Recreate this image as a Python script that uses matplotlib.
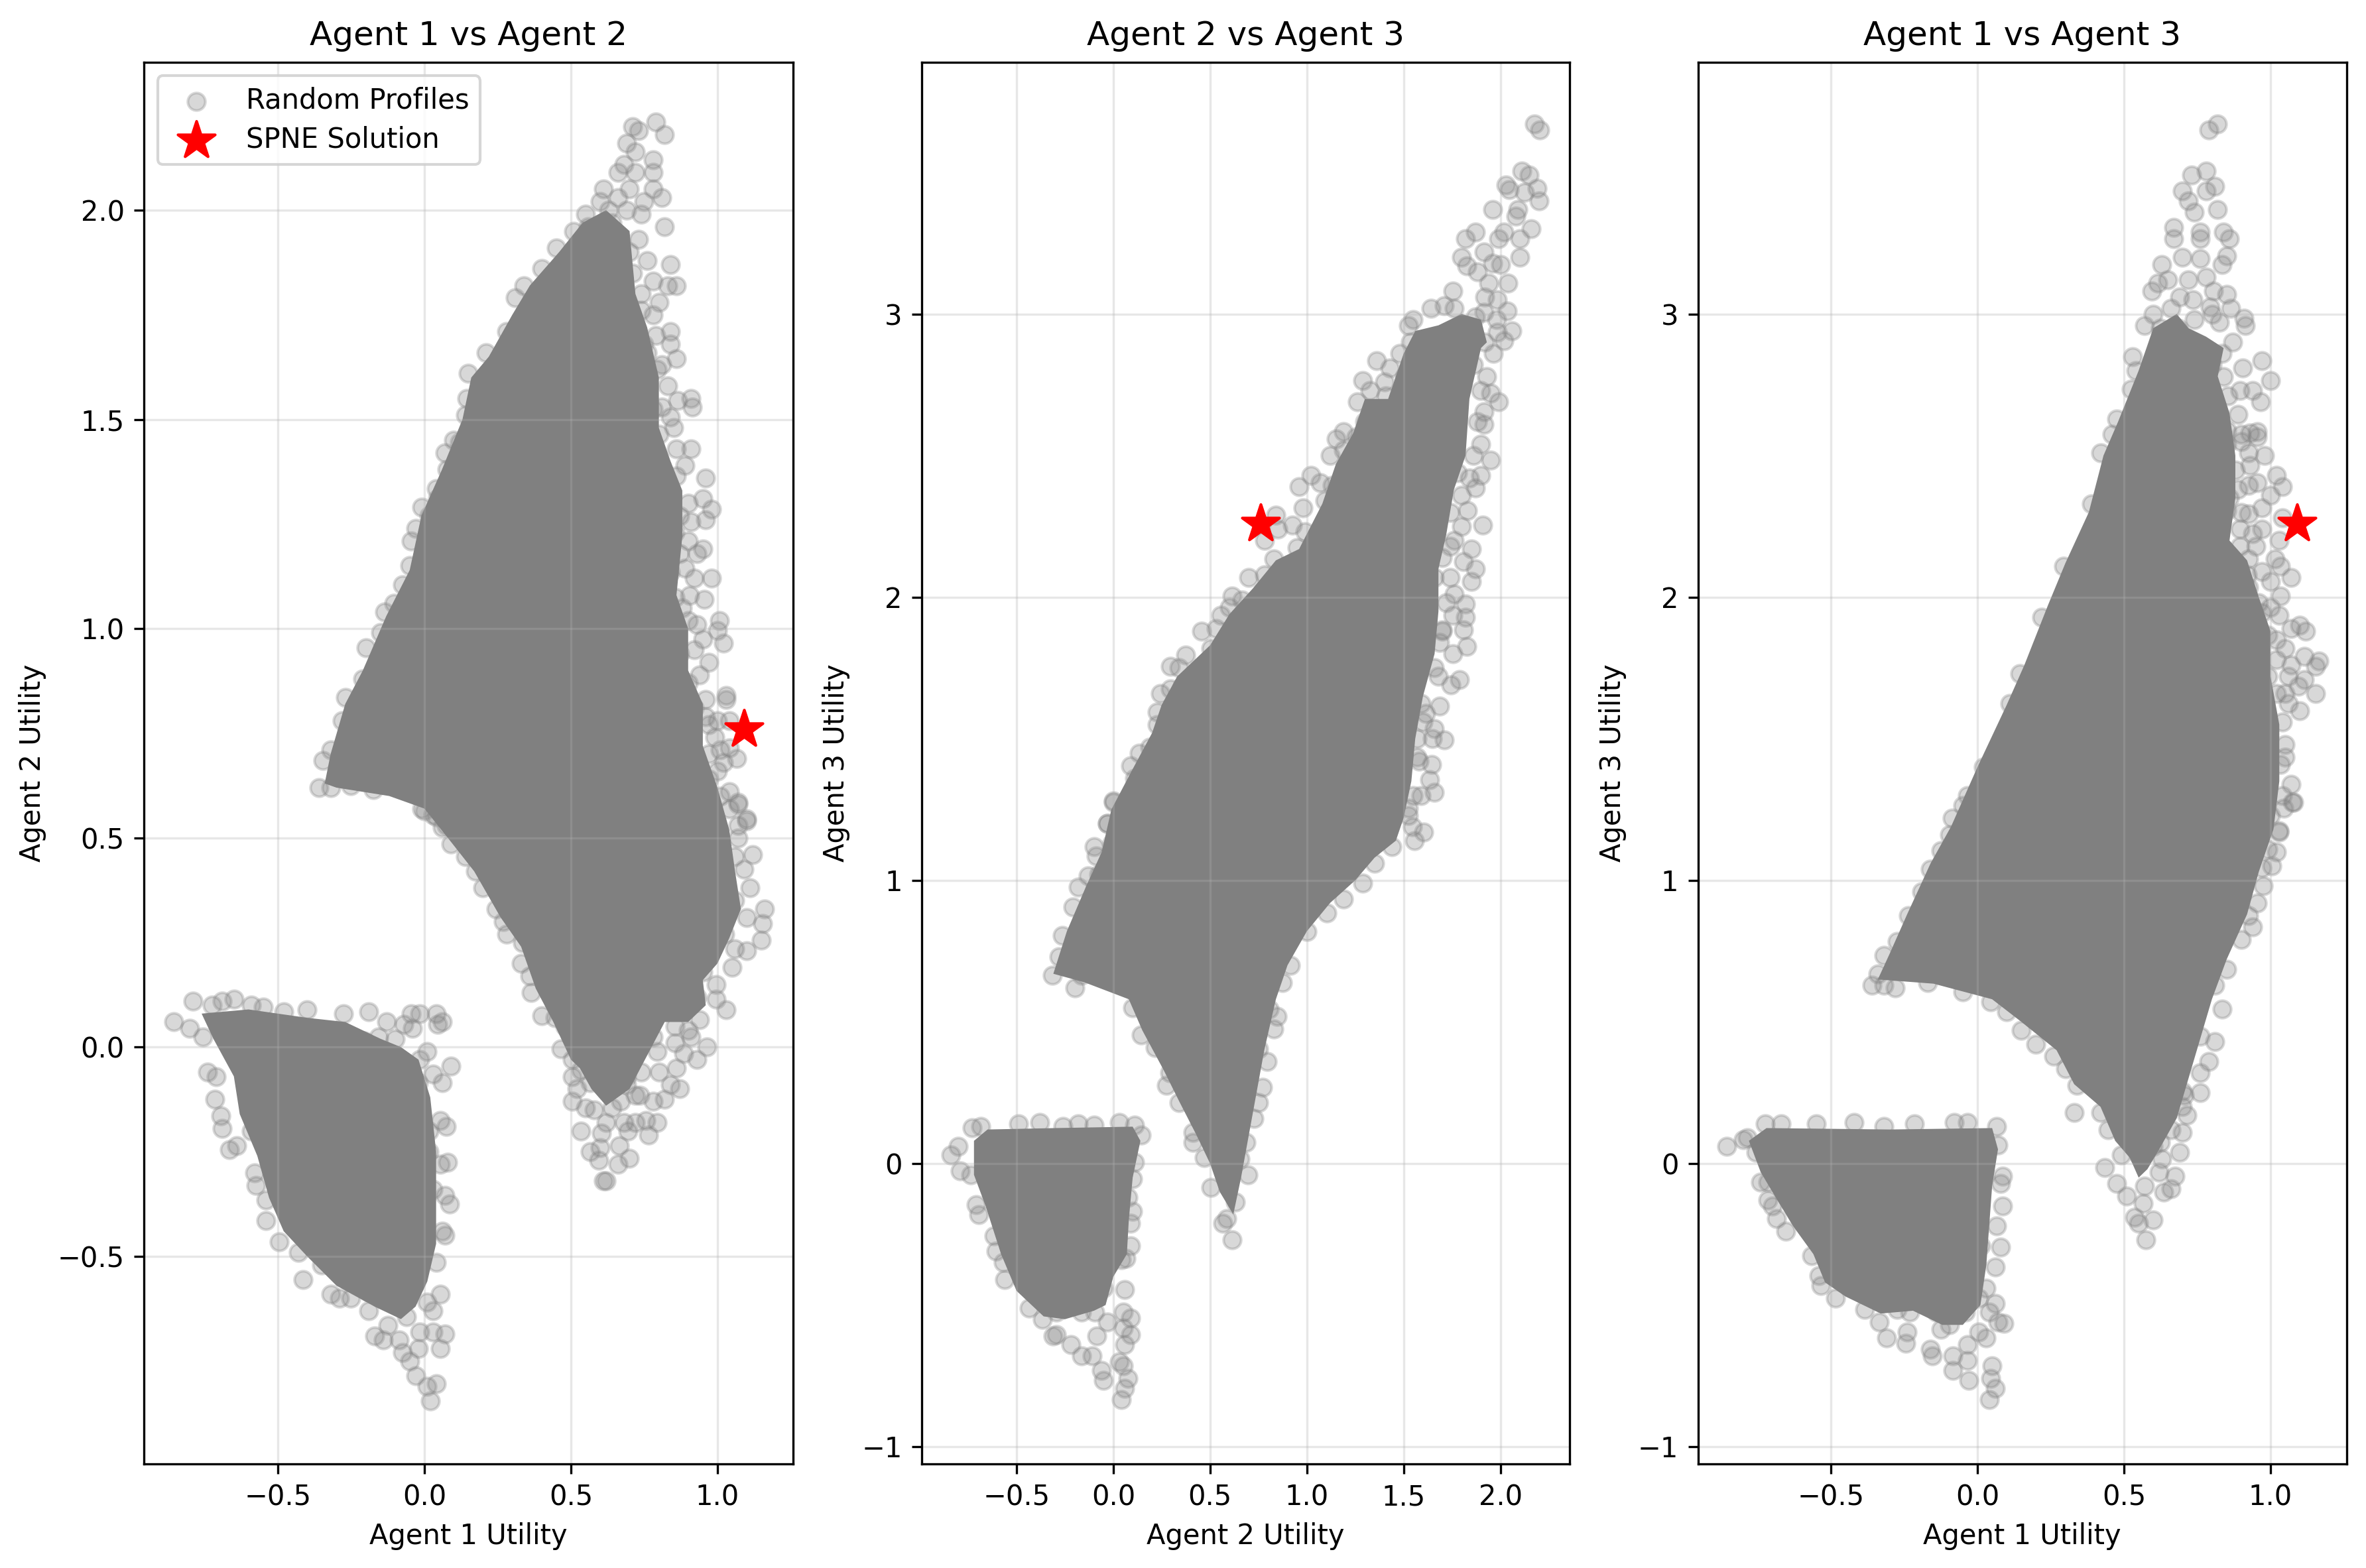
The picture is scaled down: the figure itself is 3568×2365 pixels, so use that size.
import numpy as np
import matplotlib
matplotlib.use('Agg')
import matplotlib.pyplot as plt

W, H = 3568, 2365

# SPNE utilities (agent 1, 2, 3)
spne = (1.09, 0.76, 2.26)

#==============================================================================
# agent 1 vs agent 2
#==============================================================================
# saturated part of the cloud, outline
solid_12_upper = [(-.34,.63),(-.32,.70),(-.27,.82),(-.21,.90),(-.13,1.03),(-.05,1.14),(-.01,1.27),(.06,1.38),(.13,1.50),(.16,1.60),(.22,1.65),
    (.30,1.75),(.36,1.82),(.46,1.90),(.54,1.97),(.62,2.00),(.70,1.95),(.72,1.80),(.76,1.72),(.80,1.60),(.80,1.48),(.84,1.40),(.88,1.33),(.88,1.22),
    (.86,1.08),(.90,1.0),(.90,.90),(.95,.82),(.95,.72),(1.00,.62),(1.04,.52),(1.06,.42),(1.08,.33),(1.04,.26),(1.00,.20),(.95,.16),(.96,.10),
    (.90,.06),(.82,.06),(.76,-.02),(.70,-.10),(.62,-.14),(.57,-.10),(.53,-.05),(.50,-.03),(.44,.06),(.38,.14),(.33,.24),(.26,.31),(.17,.42),
    (.08,.50),(.0,.57),(-.12,.60),(-.30,.62)]
solid_12_lower = [(-.76,.08),(-.60,.09),(-.40,.07),(-.27,.06),(-.15,.02),(-.08,0),(-.02,-.03),(.02,-.12),(.04,-.25),(.04,-.36),(.04,-.47),(.01,-.56),
    (-.03,-.62),(-.08,-.65),(-.17,-.62),(-.30,-.57),(-.40,-.50),(-.48,-.44),(-.53,-.36),(-.57,-.26),(-.63,-.16),(-.65,-.07),(-.72,.02)]
# scattered profiles around it
points_12 = [(.71,2.20),(.79,2.21),(.82,2.18),(.73,2.19),(.69,2.16),(.72,2.14),(.78,2.12),(.78,2.09),(.66,2.09),(.68,2.11),(.72,2.09),
    (.70,2.05),(.78,2.05),(.81,2.03),(.75,2.02),(.74,1.99),(.69,2.0),(.61,2.05),(.60,2.02),(.63,2.0),(.55,1.99),(.82,1.96),(.51,1.95),
    (.56,1.96),(.65,1.94),(.73,1.93),(.45,1.91),(.84,1.87),(.40,1.86),(.76,1.88),(.71,1.85),(.34,1.82),(.31,1.79),(.86,1.82),(.83,1.82),
    (.80,1.78),(.78,1.75),(.74,1.76),(.84,1.71),(.84,1.68),(.86,1.645),(.28,1.71),(.35,1.75),(.275,1.66),(.21,1.66),(.15,1.61),(.145,1.55),
    (.14,1.51),(.91,1.55),(.915,1.53),(.865,1.545),(.84,1.505),(.80,1.465),(.86,1.43),(.91,1.43),(.89,1.39),(.96,1.36),(.95,1.31),
    (.98,1.285),(.96,1.26),(.91,1.255),(.95,1.19),(.98,1.12),(.955,1.07),(.905,1.08),(1.006,1.02),(1.0,.995),(1.02,.965),(.95,.975),
    (.90,1.02),(.93,1.01),(.97,.92),(1.03,.84),(1.03,.83),(.96,.83),(.96,.79),(1.04,.78),(.99,.74),(1.01,.71),(1.04,.715),(1.065,.69),
    (1.0,.66),(1.04,.61),(1.07,.58),(1.01,.60),(1.10,.54),(1.07,.53),(.076,1.38),(.07,1.42),(.10,1.45),(.12,1.445),(.04,1.335),(.045,1.31),
    (-.01,1.29),(-.03,1.24),(-.045,1.21),(.015,1.27),(-.05,1.15),(-.075,1.105),(-.135,1.04),(-.105,1.06),(-.2,.955),(-.15,.99),(-.21,.88),
    (-.27,.835),(-.28,.78),(-.32,.71),(-.345,.685),(-.36,.62),(-.32,.62),(-.29,.66),(-.25,.625),(-.175,.615),(-.245,.67),(0,.565),(.04,.55),
    (.075,.53),(.72,1.63),(.76,1.585),(.70,1.585),(.795,1.62),(.75,1.68),(.70,1.67),(.64,1.645),(.81,1.63),(.67,1.80),(.69,1.78),(.63,1.85),
    (.72,1.535),(.78,1.525),(.69,1.44),(.78,1.415),(.86,1.365),(.81,1.365),(.72,1.34),(.84,1.33),(.80,1.285),(.76,1.28),(.855,1.23),
    (.81,1.21),(.93,1.18),(.89,1.145),(.84,1.135),(.75,1.17),(.795,1.075),(.855,1.075),(.795,1.03),(.87,.94),(.90,.87),(.84,.845),(.92,.81),
    (1.07,.585),(1.10,.545),(1.07,.50),(1.06,.455),(1.12,.46),(1.09,.425),(1.11,.38),(1.06,.35),(1.16,.33),(1.155,.295),(1.10,.31),
    (1.15,.255),(1.10,.23),(1.06,.235),(1.05,.19),(.95,.29),(1.025,.27),(.95,.225),(.995,.15),(1.03,.09),(.995,.115),(.93,.12),(.94,.065),
    (.965,0),(.93,-.03),(.885,-.015),(.91,.025),(.855,.01),(.795,-.01),(.87,-.10),(.84,-.09),(.82,-.125),(.795,-.18),(.755,-.175),
    (.765,-.21),(.70,-.265),(.66,-.28),(.665,-.235),(.695,-.2),(.62,-.32),(.61,-.32),(.595,-.27),(.565,-.25),(.535,-.20),(.605,-.205),
    (.505,-.13),(.55,-.145),(.64,-.145),(.735,-.115),(.69,-.09),(.505,-.07),(.52,-.10),(.465,-.005),(.505,-.03),(.565,-.085),(.40,.075),
    (.445,.07),(.48,.05),(.365,.13),(.36,.17),(.33,.20),(.335,.25),(.28,.27),(.27,.30),(.245,.33),(.20,.38),(.175,.42),(.14,.455),(.09,.485),
    (.06,.525),(-.01,.57),(.03,.555),(.765,.13),(.84,.095),(.765,.19),(.90,.155),(.64,.095),(.78,.025),(.64,-.01),(.69,-.07),(.72,-.115),
    (.58,-.03),(.535,-.055),(.69,.025),(.95,.18),(.855,.05),(.58,.085),
    (.66,2.03),(.64,1.97),(.60,1.93),(.70,1.90),(.66,1.88),(.78,1.83),(.74,1.80),(.79,1.70),(.76,1.66),(.83,1.58),(.85,1.48),(.81,1.53),(.90,1.30),
    (.87,1.27),(.90,1.21),(.87,1.18),(.92,1.12),(.88,1.05),(.92,.95),(.94,.89),(.97,.77),(1.0,.78),(.97,.70),(1.02,.68),(.97,.64),(1.04,.57),
    (.62,-.18),(.60,-.24),(.68,-.18),(.74,-.06),(.80,-.06),(.86,-.05),(.78,-.13),(.72,-.18),(.67,-.13),(.58,-.15),(.90,.04),(.86,.10),
    (-.855,.06),(-.79,.11),(-.80,.045),(-.755,.025),(-.74,-.06),(-.71,-.07),(-.715,-.125),(-.695,-.165),(-.69,-.195),(-.665,-.245),
    (-.64,-.235),(-.59,-.2),(-.58,-.30),(-.575,-.33),(-.54,-.365),(-.54,-.415),(-.495,-.465),(-.43,-.49),(-.415,-.555),(-.35,-.52),
    (-.32,-.59),(-.25,-.60),(-.29,-.60),(-.19,-.63),(-.19,-.585),(-.17,-.69),(-.14,-.70),(-.125,-.665),(-.085,-.70),(-.075,-.73),(-.05,-.75),
    (-.03,-.785),(.01,-.81),(.04,-.805),(.02,-.845),(-.02,-.72),(.055,-.72),(.07,-.685),(.03,-.68),(-.015,-.68),(.055,-.59),(.03,-.63),
    (.01,-.61),(-.075,-.575),(-.06,-.645),(.04,-.515),(.07,-.45),(.06,-.44),(0,-.44),(.085,-.375),(.07,-.355),(.03,-.34),(.08,-.275),
    (.055,-.28),(.015,-.25),(.075,-.19),(.055,-.175),(.015,-.2),(.06,-.085),(.09,-.045),(.03,-.065),(-.015,-.03),(.01,-.01),(-.02,-.085),
    (.045,.055),(.06,.06),(.04,.08),(-.045,.08),(-.015,.08),(-.04,.045),(-.07,.055),(-.19,.085),(-.13,.06),(-.10,.02),(-.275,.08),(-.40,.09),
    (-.48,.085),(-.55,.095),(-.65,.115),(-.725,.10),(-.69,.11),(-.59,.10),(-.205,.015),(-.155,.025),(-.12,-.02)]

#==============================================================================
# agent 2 vs agent 3
#==============================================================================
solid_23_upper = [(-.31,.67),(-.24,.82),(-.14,.98),(-.06,1.10),(-.01,1.25),(.09,1.38),(.20,1.52),(.25,1.62),(.33,1.72),(.50,1.83),(.60,1.94),(.72,2.03),
    (.84,2.13),(.96,2.17),(1.08,2.33),(1.15,2.47),(1.24,2.58),(1.30,2.70),(1.42,2.70),(1.50,2.86),(1.56,2.94),(1.68,2.96),(1.80,3.0),(1.90,2.98),
    (1.93,2.9),(1.90,2.88),(1.84,2.70),(1.82,2.50),(1.76,2.38),(1.72,2.22),(1.68,2.10),(1.68,1.95),(1.66,1.80),(1.60,1.65),(1.56,1.50),(1.54,1.35),
    (1.50,1.22),(1.46,1.14),(1.35,1.08),(1.25,1.0),(1.12,.92),(1.0,.82),(.90,.70),(.84,.58),(.78,.40),(.74,.25),(.70,.10),(.66,-.05),(.62,-.18),
    (.55,-.10),(.50,0),(.43,.10),(.34,.22),(.26,.33),(.15,.47),(.08,.58),(-.15,.64)]
solid_23_lower = [(-.72,.08),(-.65,.12),(-.3,.125),(.10,.13),(.14,.08),(.10,-.05),(.08,-.20),(.07,-.32),(0,-.40),(-.04,-.50),(-.10,-.52),(-.25,-.55),
    (-.36,-.54),(-.50,-.45),(-.58,-.32),(-.66,-.15),(-.72,-.04)]
points_23 = [(2.175,3.67),(2.205,3.65),(2.11,3.505),(2.15,3.49),(2.03,3.455),(2.045,3.44),(2.19,3.445),(2.20,3.40),(2.125,3.43),(1.96,3.37),
    (2.09,3.37),(2.08,3.345),(2.16,3.30),(2.02,3.29),(2.10,3.265),(1.99,3.265),(1.87,3.29),(1.82,3.265),(1.80,3.20),(1.915,3.22),(2.10,3.20),
    (2.0,3.175),(1.825,3.17),(2.04,3.11),(1.94,3.11),(1.755,3.08),(1.985,3.05),(1.71,3.03),(1.64,3.02),(2.035,3.01),(1.55,2.98),(1.525,2.96),
    (1.915,3.005),(2.06,2.94),(1.985,2.935),(1.535,2.90),(2.02,2.905),(1.965,2.86),(1.87,2.99),(1.80,2.95),(1.64,2.915),(1.36,2.835),
    (1.43,2.81),(1.505,2.78),(1.29,2.765),(1.325,2.73),(1.93,2.78),(1.90,2.73),(1.99,2.69),(1.915,2.655),(1.26,2.69),(1.41,2.71),(1.34,2.645),
    (1.915,2.61),(1.19,2.585),(1.255,2.565),(1.90,2.54),(1.95,2.485),(1.12,2.50),(1.19,2.52),(1.34,2.52),(1.90,2.43),(1.87,2.385),(1.78,2.44),
    (1.22,2.45),(1.02,2.43),(1.07,2.405),(.96,2.39),(.98,2.315),(1.13,2.395),(1.91,2.255),(1.83,2.305),(.84,2.29),(.925,2.255),(.78,2.20),
    (.85,2.24),(.99,2.23),(1.095,2.34),(1.08,2.25),(1.80,2.25),(1.76,2.20),(.95,2.175),(1.85,2.17),(.83,2.135),(.945,2.125),(1.095,2.15),
    (1.81,2.125),(1.87,2.10),(1.85,2.055),(1.66,2.07),(.70,2.07),(.78,2.08),(1.74,2.07),(1.76,2.01),(.615,2.005),(.665,1.99),(.60,1.965),
    (.555,1.935),(1.82,1.975),(1.82,1.93),(1.755,1.935),(.455,1.88),(.53,1.89),(1.81,1.885),(1.70,1.885),(1.825,1.825),(1.685,1.84),(.505,1.82),
    (.375,1.795),(.295,1.755),(.34,1.75),(.665,1.80),(1.755,1.80),(1.66,1.75),(1.79,1.71),(1.745,1.69),(.42,1.73),(.295,1.675),(.245,1.66),
    (.355,1.685),(.225,1.595),(.295,1.58),(.225,1.55),(1.59,1.625),(1.685,1.615),(1.615,1.59),(1.66,1.535),(1.71,1.495),(1.65,1.50),(1.57,1.50),
    (.19,1.47),(.135,1.45),(.09,1.405),(.11,1.36),(1.57,1.435),(1.645,1.41),(1.635,1.355),(1.66,1.31),(1.59,1.30),(0,1.28),(-.03,1.20),
    (1.525,1.255),(1.475,1.32),(1.545,1.19),(1.455,1.39),(1.44,1.265),(1.605,1.17),(1.555,1.14),(1.525,1.23),(1.44,1.12),(1.35,1.06),
    (1.29,.99),(1.19,.935),(1.105,.885),(1.0,.82),(.915,.70),(.875,.64),(.805,.545),(.845,.52),(.83,.475),(.795,.36),(.75,.405),(.77,.27),
    (.75,.215),(.725,.16),(.685,.075),(.695,-.04),(.655,.015),(.63,-.135),(.615,-.27),(.585,-.195),(.565,-.21),(.505,-.085),(.47,.02),(.41,.075),
    (.41,.11),(.445,.155),(.34,.215),(.275,.275),(.29,.32),(.215,.41),(.145,.455),(.10,.55),(-.165,.665),(-.20,.62),(-.315,.665),(-.28,.73),
    (-.265,.805),(-.21,.905),(-.18,.975),(-.13,1.015),(-.075,1.02),(-.10,1.12),(-.09,1.085),(-.005,1.13),(-.03,1.20),(0,1.275),
    (1.88,3.15),(1.96,3.18),(1.92,3.06),(1.98,2.98),(1.92,2.90),(1.76,3.02),(1.72,2.85),(1.86,2.82),(1.95,2.72),(1.88,2.62),(1.86,2.50),(1.84,2.42),
    (1.80,2.36),(1.74,2.30),(1.74,2.18),(1.70,2.14),(1.72,1.98),(1.70,1.88),(1.68,1.72),(1.60,1.56),(1.58,1.42),(1.55,1.30),(1.15,2.56),(1.30,2.62),
    (1.40,2.76),(1.48,2.86),(1.58,2.88),
    (-.84,.03),(-.80,.06),(-.79,-.025),(-.735,-.04),(-.73,.125),(-.685,.13),(-.71,-.145),(-.695,-.18),(-.49,.14),(-.38,.145),(-.26,.13),
    (-.18,.14),(-.10,.135),(.03,.145),(.11,.135),(.145,.10),(.11,.005),(.10,-.055),(.075,-.12),(.10,-.17),(.09,-.21),(.09,-.29),(.065,-.335),
    (.04,-.34),(.06,-.445),(-.05,-.44),(.05,-.525),(.09,-.545),(.09,-.605),(.05,-.58),(-.03,-.56),(-.085,-.61),(.06,-.64),(.03,-.70),(.05,-.715),
    (-.06,-.73),(-.05,-.765),(.075,-.76),(.06,-.795),(.04,-.835),(-.11,-.68),(-.165,-.68),(-.22,-.64),(-.295,-.605),(-.31,-.61),(-.365,-.55),
    (-.435,-.51),(-.56,-.41),(-.57,-.35),(-.605,-.31),(-.615,-.255),(-.165,-.525),(-.095,-.525),(-.295,-.525)]

#==============================================================================
# agent 1 vs agent 3
#==============================================================================
solid_13_upper = [(-.34,.65),(-.30,.74),(-.24,.88),(-.16,1.06),(-.09,1.19),(.0,1.40),(.10,1.62),(.16,1.76),(.24,1.97),(.30,2.12),(.38,2.30),(.43,2.50),
    (.48,2.62),(.55,2.80),(.60,2.95),(.68,3.0),(.72,2.95),(.78,2.92),(.84,2.88),(.82,2.78),(.86,2.65),(.88,2.50),(.88,2.35),(.86,2.20),(.92,2.13),
    (.96,2.0),(1.0,1.88),(1.0,1.72),(1.03,1.55),(1.03,1.35),(1.01,1.18),(.96,1.03),(.92,.88),(.85,.72),(.80,.58),(.76,.44),(.72,.30),(.68,.16),
    (.62,.05),(.58,-.02),(.55,-.05),(.52,.02),(.47,.08),(.42,.20),(.33,.28),(.27,.40),(.15,.50),(.05,.58),(-.15,.635)]
solid_13_lower = [(-.78,.08),(-.72,.125),(-.3,.12),(.05,.125),(.07,.05),(.05,-.08),(.04,-.22),(.03,-.36),(.01,-.50),(-.05,-.57),(-.12,-.57),(-.22,-.52),
    (-.33,-.53),(-.45,-.47),(-.52,-.42),(-.56,-.32),(-.63,-.22),(-.70,-.10),(-.74,-.03)]
points_13 = [(.82,3.67),(.79,3.65),(.78,3.505),(.73,3.49),(.81,3.45),(.78,3.435),(.70,3.435),(.82,3.37),(.72,3.40),(.74,3.36),(.67,3.305),
    (.76,3.29),(.84,3.29),(.86,3.265),(.67,3.265),(.76,3.265),(.85,3.205),(.63,3.175),(.835,3.175),(.76,3.195),(.70,3.20),(.615,3.11),(.595,3.08),
    (.78,3.13),(.85,3.07),(.805,3.08),(.69,3.06),(.735,3.05),(.865,3.02),(.795,3.025),(.91,2.985),(.915,2.96),(.57,2.96),(.825,2.97),(.625,2.95),
    (.685,2.95),(.87,2.90),(.97,2.835),(.53,2.85),(.745,2.88),(.835,2.86),(.905,2.81),(.84,2.78),(1.0,2.765),(.54,2.80),(.525,2.735),(.795,2.72),
    (.855,2.71),(.94,2.73),(.895,2.73),(.965,2.69),(.89,2.645),(.475,2.63),(.955,2.585),(.90,2.575),(.85,2.59),(.955,2.565),(.46,2.575),(.98,2.50),
    (.925,2.51),(.93,2.465),(.42,2.51),(1.02,2.43),(1.04,2.39),(.88,2.45),(1.0,2.36),(.955,2.405),(.925,2.395),(.39,2.33),(.97,2.315),(.925,2.295),
    (1.04,2.28),(.97,2.24),(.94,2.225),(.895,2.24),(1.03,2.20),(.895,2.18),(1.015,2.135),(1.035,2.11),(1.07,2.07),(.97,2.09),(.925,2.135),
    (.845,2.145),(1.035,2.005),(1.0,1.965),(1.03,1.935),(1.07,1.89),(1.10,1.90),(1.12,1.88),(.99,1.865),(1.05,1.82),(1.115,1.79),(1.165,1.775),
    (1.155,1.755),(1.07,1.76),(1.115,1.71),(1.095,1.685),(1.155,1.66),(1.05,1.66),(1.10,1.60),(1.06,1.625),(1.05,1.48),(1.05,1.435),(1.035,1.41),
    (1.07,1.34),(1.075,1.275),(1.045,1.255),(1.03,1.175),(.985,1.585),(.99,1.72),(.925,1.75),(1.08,1.275),(1.03,1.17),(1.0,1.23),(1.005,1.05),
    (.97,1.045),(.99,1.11),(.975,.98),(.955,.92),(.94,.835),(.925,.875),(.90,.79),(.855,.865),(.85,.685),(.81,.63),(.835,.545),(.81,.43),(.76,.45),
    (.76,.25),(.79,.36),(.76,.32),(.705,.24),(.70,.11),(.715,.17),(.69,.04),(.625,.075),(.675,-.045),(.66,-.09),(.635,-.10),(.63,.015),(.60,-.20),
    (.575,-.27),(.55,-.21),(.535,-.19),(.565,-.14),(.51,-.115),(.475,-.07),(.435,-.015),(.49,.03),(.445,.12),(.42,.18),(.33,.18),(.34,.275),(.30,.335),
    (.26,.38),(.20,.42),(.15,.47),(.10,.535),(.045,.57),(-.05,.605),(-.17,.64),(-.28,.62),(-.32,.63),(-.36,.63),(-.34,.67),(-.32,.735),(-.275,.785),
    (-.235,.875),(-.19,.96),(-.16,1.04),(-.125,1.105),(-.095,1.16),(-.05,1.265),(.535,.225),(.565,.275),(.70,.255),(-.087,1.22),(-.035,1.30),(.02,1.40),
    (.11,1.625),(.145,1.73),(.22,1.93),(.295,2.11),(.715,2.825),(.625,2.825),(.70,2.735),(.625,2.81),(.79,2.59),(.82,2.52),(.745,2.575),(.85,2.54),
    (.715,2.41),(.775,2.395),(.85,2.305),(.775,2.285),(.88,2.11),(.835,2.09),(.925,2.035),(.805,2.055),(.895,1.965),(.97,1.945),(1.0,2.055),
    (.65,3.12),(.72,3.12),(.80,3.0),(.74,2.98),(.66,3.02),(.60,3.0),(.76,2.80),(.80,2.82),(.90,2.55),(.93,2.58),(.89,2.38),(.90,2.30),(.86,2.35),(.95,2.18),
    (.92,2.08),(.96,1.98),(1.02,1.85),(1.02,1.78),(1.06,1.72),(1.02,1.66),(1.04,1.56),(1.04,1.30),(1.02,1.10),
    (.60,.06),(.55,.03),(.57,-.08),(.62,-.03),(.66,.12),(.70,.20),(.52,.10),(.49,.14),(.60,.16),
    (-.855,.06),(-.80,.085),(-.785,.09),(-.755,.04),(-.74,-.065),(-.715,-.065),(-.715,-.13),(-.70,-.15),(-.685,-.195),(-.655,-.24),(-.565,-.325),
    (-.54,-.395),(-.535,-.43),(-.485,-.475),(-.385,-.515),(-.335,-.56),(-.31,-.615),(-.245,-.635),(-.24,-.595),(-.16,-.655),(-.155,-.68),(-.085,-.68),
    (-.085,-.73),(-.035,-.695),(-.03,-.765),(-.035,-.64),(.045,-.76),(.05,-.715),(.06,-.795),(.04,-.835),(.03,-.615),(.09,-.565),(.07,-.56),(.005,-.595),
    (.04,-.525),(.06,-.495),(.03,-.44),(.005,-.475),(.06,-.365),(.08,-.295),(.01,-.29),(.065,-.22),(.085,-.15),(.08,-.07),(.085,-.045),(.07,.065),
    (.065,.13),(-.035,.145),(-.08,.145),(-.215,.14),(-.32,.13),(-.42,.145),(-.55,.14),(-.67,.14),(-.725,.14),(-.04,-.525),(-.095,-.57),(-.125,-.585),
    (-.23,-.525),(-.065,-.455),(-.14,-.525),(-.275,-.515),(-.395,-.44),(-.16,-.455),(-.02,-.40),(-.005,-.35)]

titles = ['Agent 1 vs Agent 2', 'Agent 2 vs Agent 3', 'Agent 1 vs Agent 3']
xlabels = ['Agent 1 Utility', 'Agent 2 Utility', 'Agent 1 Utility']
ylabels = ['Agent 2 Utility', 'Agent 3 Utility', 'Agent 3 Utility']
xlims = [(-.957, 1.258), (-.991, 2.357), (-.954, 1.26)]
ylims = [(-.996, 2.354), (-1.061, 3.89), (-1.061, 3.89)]
lefts = [217, 1389.7, 2560.5]
rights = [1196, 2366.8, 3538.9]
stars = [(spne[0], spne[1]), (spne[1], spne[2]), (spne[0], spne[2])]
clouds = [points_12, points_23, points_13]
solids = [(solid_12_upper, solid_12_lower), (solid_23_upper, solid_23_lower), (solid_13_upper, solid_13_lower)]

fig = plt.figure(figsize=(W / 300, H / 300), dpi=300)
top, bottom = 93.5, 2208
for i in range(3):
    ax = fig.add_axes([lefts[i] / W, 1 - bottom / H, (rights[i] - lefts[i]) / W, (bottom - top) / H])
    for poly in solids[i]:
        poly = np.array(poly)
        ax.fill(poly[:, 0], poly[:, 1], color='#808080', lw=0, zorder=1)
    pts = np.array(clouds[i])
    ax.scatter(pts[:, 0], pts[:, 1], c='gray', s=40, alpha=0.3, label='Random Profiles')
    ax.scatter(stars[i][0], stars[i][1], c='red', s=200, marker='*', zorder=5, label='SPNE Solution')
    ax.set_title(titles[i])
    ax.set_xlabel(xlabels[i])
    ax.set_ylabel(ylabels[i])
    ax.set_xlim(xlims[i])
    ax.set_ylim(ylims[i])
    ax.grid(True, alpha=0.3)
    if i == 0:
        ax.legend(loc='upper left', labelspacing=0.4)

plt.savefig('out.png', dpi=300)
